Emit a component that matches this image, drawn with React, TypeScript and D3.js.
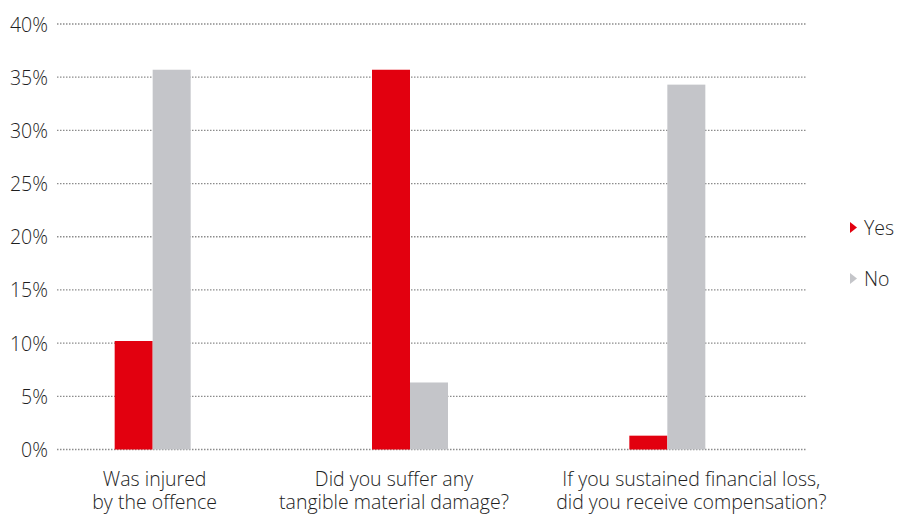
import React from "react";
import * as d3 from "d3";

const categories: string[][] = [
  ["Was injured", "by the offence"],
  ["Did you suffer any", "tangible material damage?"],
  ["If you sustained financial loss,", "did you receive compensation?"],
];
const seriesNames = ["Yes", "No"];
const yesValues = [10.2, 35.7, 1.3];
const noValues = [35.7, 6.3, 34.3];
const yTicks = [0, 5, 10, 15, 20, 25, 30, 35, 40];
const colors = ["#e2000f", "#c4c5c9"];

// layout tweaks: horizontal nudge of each category label relative to its bar group
const labelDx = [2, -16, 24];

const W = 902;
const H = 516;
const FONT = "'Open Sans', sans-serif";
const FS = 19.5;

export default function App() {
  const y = d3.scaleLinear().domain([0, 40]).range([449.5, 24]);
  const x0 = d3
    .scaleBand<number>()
    .domain(d3.range(categories.length))
    .range([24, 796])
    .paddingInner(0)
    .paddingOuter(0);
  const groupW = 76;
  const x1 = d3.scaleBand<number>().domain([0, 1]).range([0, groupW]);
  const values = [yesValues, noValues];
  const legendY = d3.scalePoint<number>().domain([0, 1]).range([227.5, 278.5]);

  return (
    <svg
      width={W}
      height={H}
      style={{ position: "absolute", left: 0, top: 0, background: "#fff" }}
    >
      {yTicks.map((t) => (
        <g key={t}>
          <line
            x1={57}
            x2={806}
            y1={y(t)}
            y2={y(t)}
            stroke="#8c8c8c"
            strokeWidth={1.3}
            strokeDasharray="1.5 1.5"
          />
          <text
            x={48}
            y={y(t)}
            textAnchor="end"
            dominantBaseline="central"
            fontFamily={FONT}
            fontWeight={300}
            fontSize={FS}
            fill="#1e1e1e"
          >
            {t}%
          </text>
        </g>
      ))}
      {categories.map((c, i) => {
        const cx = (x0(i) as number) + x0.bandwidth() / 2;
        const gx = cx - groupW / 2;
        return (
          <g key={i}>
            {values.map((vals, s) => (
              <rect
                key={s}
                x={gx + (x1(s) as number)}
                width={x1.bandwidth()}
                y={y(vals[i])}
                height={y(0) - y(vals[i])}
                fill={colors[s]}
              />
            ))}
            {c.map((line, li) => (
              <text
                key={li}
                x={cx + labelDx[i]}
                y={485.5 + li * 23.5}
                textAnchor="middle"
                fontFamily={FONT}
                fontWeight={300}
                fontSize={FS}
                fill="#1e1e1e"
              >
                {line}
              </text>
            ))}
          </g>
        );
      })}
      {seriesNames.map((n, s) => {
        const ly = legendY(s) as number;
        return (
          <g key={n}>
            <path
              d={`M850,${ly - 5.5}L857,${ly}L850,${ly + 5.5}Z`}
              fill={colors[s]}
            />
            <text
              x={864}
              y={ly}
              dominantBaseline="central"
              fontFamily={FONT}
              fontWeight={300}
              fontSize={FS}
              fill="#1e1e1e"
            >
              {n}
            </text>
          </g>
        );
      })}
    </svg>
  );
}
